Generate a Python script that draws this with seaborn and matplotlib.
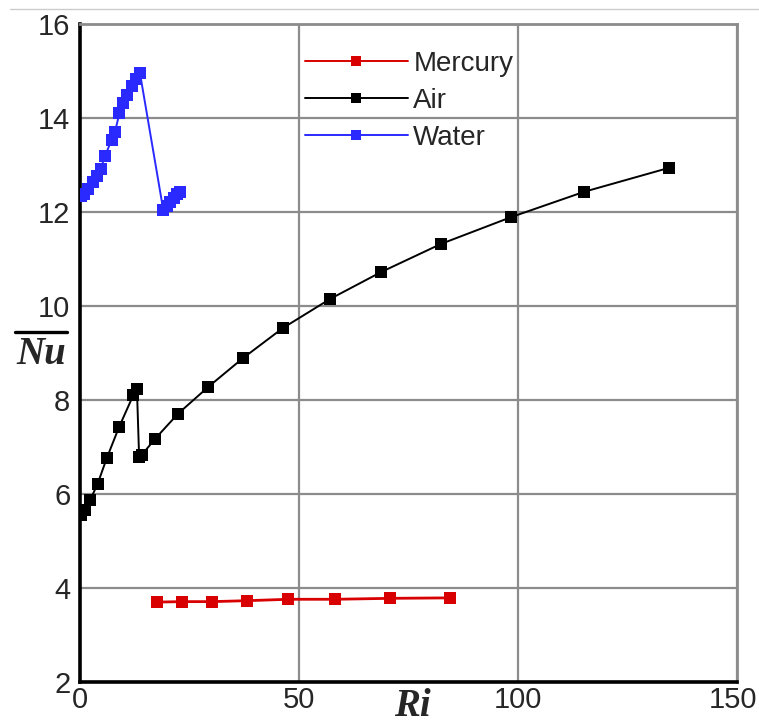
import matplotlib
matplotlib.use("Agg")
import matplotlib.pyplot as plt
from matplotlib.lines import Line2D
from matplotlib.ticker import MultipleLocator
from matplotlib.transforms import ScaledTranslation
import pandas as pd
import seaborn as sns

# Average Nusselt number versus Richardson number for three fluids
mercury_ri = [17.5, 23.2, 30.1, 38.1, 47.6, 58.2, 70.8, 84.5]
mercury_nu = [3.70, 3.71, 3.71, 3.73, 3.76, 3.76, 3.78, 3.79]

air_ri = [0.3, 1.1, 2.3, 4.0, 6.1, 8.9, 12.2, 13.0, 13.5, 14.1, 17.1, 22.4, 29.3,
          37.2, 46.3, 57.1, 68.7, 82.4, 98.4, 115.1, 134.5]
air_nu = [5.55, 5.67, 5.87, 6.21, 6.76, 7.42, 8.11, 8.23, 6.78, 6.83, 7.17, 7.71, 8.28,
          8.89, 9.53, 10.15, 10.72, 11.32, 11.89, 12.43, 12.94]

water_ri = [0.3, 0.9, 1.9, 2.9, 3.8, 4.7, 5.7, 7.2, 8.0, 9.0, 9.9, 10.8, 11.8, 12.8, 13.7,
            19.0, 19.8, 20.6, 21.4, 22.2, 22.8]
water_nu = [12.33, 12.38, 12.5, 12.64, 12.77, 12.91, 13.19, 13.53, 13.71, 14.1, 14.31,
            14.49, 14.68, 14.84, 14.95, 12.05, 12.13, 12.22, 12.30, 12.38, 12.43]

series_names = ["Mercury", "Air", "Water"]
series_colors = {"Mercury": "#d80000", "Air": "#000000", "Water": "#2a2aff"}

x_ticks = [0, 50, 100, 150]
y_ticks = [2, 4, 6, 8, 10, 12, 14, 16]

frames = []
for name, ri, nu in [("Mercury", mercury_ri, mercury_nu),
                     ("Air", air_ri, air_nu),
                     ("Water", water_ri, water_nu)]:
    frames.append(pd.DataFrame({"Ri": ri, "Nu": nu, "fluid": name}))
df = pd.concat(frames, ignore_index=True)

sns.set_style("white")
plt.rcParams["font.family"] = ["Liberation Sans", "DejaVu Sans"]

W, H = 759, 724
fig = plt.figure(figsize=(W / 100, H / 100), dpi=100)
ax = fig.add_axes([80 / W, 1 - 682 / H, (737 - 80) / W, (682 - 24) / H])

for name in series_names:
    sub = df[df["fluid"] == name]
    sns.lineplot(data=sub, x="Ri", y="Nu", ax=ax, color=series_colors[name],
                 marker="s", markersize=8, markeredgewidth=0,
                 linewidth=2.0 if name == "Mercury" else 1.4,
                 estimator=None, sort=False, legend=False, zorder=3)

ax.set_xlim(0, 150)
ax.set_ylim(2, 16)
ax.set_xticks(x_ticks)
ax.set_yticks(y_ticks)
ax.xaxis.set_minor_locator(MultipleLocator(10))
ax.yaxis.set_minor_locator(MultipleLocator(0.5))
ax.set_xticklabels([str(v) for v in x_ticks])
ax.set_yticklabels([str(v) for v in y_ticks])
ax.set_xlabel("")
ax.set_ylabel("")

ax.grid(True, which="major", color="#8c8c8c", linewidth=1.6, zorder=0)
ax.tick_params(which="major", direction="in", length=9, width=2, color="black",
               labelsize=21, pad=3, top=False, right=False)
ax.tick_params(which="minor", direction="in", length=6, width=1.2, color="#9a9a9a",
               top=False, right=False)
ax.tick_params(axis="y", which="major", pad=7)

# keep the last x label inside the canvas
last = ax.get_xticklabels()[-1]
last.set_transform(last.get_transform() + ScaledTranslation(-4 / 100, 0, fig.dpi_scale_trans))

for side in ("left", "bottom"):
    ax.spines[side].set_color("black")
    ax.spines[side].set_linewidth(2.6)
for side in ("top", "right"):
    ax.spines[side].set_color("#8c8c8c")
    ax.spines[side].set_linewidth(2.0)

# legend: long handle line with the marker in the middle
handles = [Line2D([0], [0], color=series_colors[n], marker="s", markersize=7,
                  markeredgewidth=0, linewidth=1.4) for n in series_names]
ax.legend(handles, series_names, loc="upper left",
          bbox_to_anchor=((305 - 80) / (737 - 80), 1 - (51 - 24) / (682 - 24)),
          frameon=False, fontsize=20, handlelength=3.7, handletextpad=0.2,
          labelspacing=0.39, numpoints=1, borderaxespad=0, borderpad=0)

# axis titles in bold italic serif, with the bar over Nu
fig.text(41 / W, 1 - 364 / H, "Nu", family="Liberation Serif", weight="bold",
         style="italic", fontsize=28, ha="center", va="baseline")
fig.add_artist(Line2D([15 / W, 67 / W], [1 - 332 / H, 1 - 332 / H],
                      color="black", linewidth=2.4))
fig.text(412 / W, 1 - 716 / H, "Ri", family="Liberation Serif", weight="bold",
         style="italic", fontsize=28, ha="center", va="baseline")

# thin rule along the top edge
fig.add_artist(Line2D([10 / W, 1.0], [1 - 9 / H, 1 - 9 / H],
                      color="#cccccc", linewidth=1.0))

fig.savefig("out.png", dpi=100)
